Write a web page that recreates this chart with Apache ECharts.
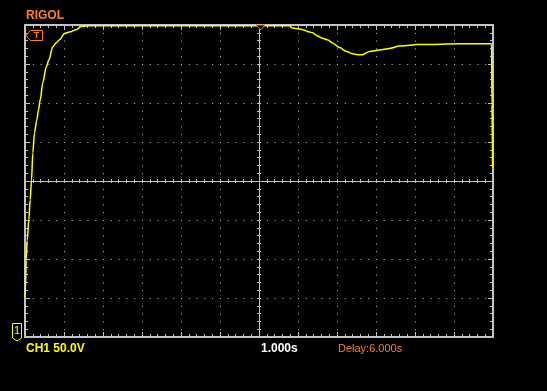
<!DOCTYPE html>
<html>
<head>
<meta charset="utf-8">
<script src="https://cdn.jsdelivr.net/npm/echarts@6/dist/echarts.min.js"></script>
<style>
html,body{margin:0;padding:0;background:#000;}
#chart{width:547px;height:391px;}
</style>
</head>
<body>
<div id="chart"></div>
<script>
// Time relative to screen centre (s), 1.000 s/div, 12 divisions
const timeSec = [
  -6.000, -5.987, -5.970, -5.944, -5.903, -5.867, -5.833, -5.800, -5.756, -5.700,
  -5.654, -5.610, -5.544, -5.456, -5.390, -5.287, -5.205, -5.115, -4.987, -4.859, -4.687,
  -4.559, -4.397, -3.000, -1.000, 0.000, 0.780, 0.859, 1.038, 1.115, 1.295,
  1.372, 1.500, 1.628, 1.756, 1.885, 2.064, 2.244, 2.397, 2.526, 2.654,
  2.833, 3.090, 3.346, 3.603, 3.859, 4.030, 4.450, 5.140, 5.962, 5.975, 5.990
];
// CH1 voltage relative to screen centre (V), 50.0 V/div, 8 divisions
const ch1Volt = [
  -149, -136, -101, -76, -50, -24, 1, 36, 62, 78,
  91, 104, 126, 146, 155, 172, 177, 181, 189, 191, 194,
  198, 199, 199, 199, 199, 199, 196, 195, 194, 191,
  190, 186, 183, 181, 177, 171, 166, 163, 162, 162,
  166, 168, 170, 173, 174, 175, 175, 176, 176, 97, 18
];
const xRange = [-6, 6];
const yRange = [-200, 200];

const grey = '#c4c4c4';
const orange = '#ff8020';
const yellow = '#ffff00';

function borderAxis(pos, min, max, interval) {
  return {
    type: 'value', min: min, max: max, interval: interval, position: pos,
    axisLine: { show: true, onZero: false, lineStyle: { color: grey, width: 2 } },
    axisTick: { show: true, inside: true, length: 5, lineStyle: { color: grey, width: 1 } },
    minorTick: { show: true, splitNumber: 5, length: 3, lineStyle: { color: grey, width: 1 } },
    axisLabel: { show: false },
    splitLine: { show: false }
  };
}
function centreAxis(pos, min, max, interval, inside) {
  return {
    type: 'value', min: min, max: max, interval: interval, position: pos,
    axisLine: { show: true, onZero: true, onZeroAxisIndex: 0, lineStyle: { color: grey, width: 1 } },
    axisTick: { show: true, inside: inside, length: 2, lineStyle: { color: grey, width: 1 } },
    minorTick: { show: true, splitNumber: 5, length: 2, lineStyle: { color: grey, width: 1 } },
    axisLabel: { show: false },
    splitLine: { show: false }
  };
}

const xMain = borderAxis('bottom', xRange[0], xRange[1], 1);
xMain.splitLine = { show: true, lineStyle: { color: grey, width: 1, type: [1, 6.8] } };
const yMain = borderAxis('left', yRange[0], yRange[1], 50);
yMain.splitLine = { show: true, lineStyle: { color: grey, width: 1, type: [1, 6.8] } };

const chart = echarts.init(document.getElementById('chart'), null, { renderer: 'canvas' });
chart.setOption({
  backgroundColor: '#000',
  animation: false,
  grid: { left: 25, top: 25, width: 468, height: 312, containLabel: false },
  xAxis: [
    xMain,
    borderAxis('top', xRange[0], xRange[1], 1),
    centreAxis('bottom', xRange[0], xRange[1], 1, true),
    centreAxis('bottom', xRange[0], xRange[1], 1, false)
  ],
  yAxis: [
    yMain,
    borderAxis('right', yRange[0], yRange[1], 50),
    centreAxis('left', yRange[0], yRange[1], 50, true),
    centreAxis('left', yRange[0], yRange[1], 50, false)
  ],
  series: [{
    type: 'line',
    xAxisIndex: 0, yAxisIndex: 0,
    data: timeSec.map((t, i) => [t, ch1Volt[i]]),
    showSymbol: false,
    clip: false,
    smooth: 0.3,
    smoothMonotone: 'x',
    z: 10,
    lineStyle: { color: yellow, width: 1.5 }
  }],
  graphic: [
    { type: 'text', left: 26, top: 10, z: 20,
      style: { text: 'RIGOL', fill: orange, font: 'bold 12px "Liberation Sans", Arial, sans-serif' } },
    { type: 'polygon', z: 20,
      shape: { points: [[26, 35.5], [30.5, 30.5], [42.5, 30.5], [42.5, 40.5], [30.5, 40.5]] },
      style: { fill: '#000', stroke: orange, lineWidth: 1 } },
    { type: 'text', x: 36.5, y: 35.5, z: 21,
      style: { text: 'T', fill: orange, font: 'bold 9px "Liberation Sans", Arial, sans-serif', align: 'center', verticalAlign: 'middle' } },
    { type: 'polygon', z: 20,
      shape: { points: [[256, 25], [265, 25], [260.5, 30]] },
      style: { fill: '#000', stroke: orange, lineWidth: 1 } },
    { type: 'polygon', z: 20,
      shape: { points: [[12.5, 323.5], [21.5, 323.5], [21.5, 338], [17, 341], [12.5, 338]] },
      style: { fill: '#000', stroke: yellow, lineWidth: 1 } },
    { type: 'text', x: 17, y: 331, z: 21,
      style: { text: '1', fill: yellow, font: '11px "Liberation Sans", Arial, sans-serif', align: 'center', verticalAlign: 'middle' } },
    { type: 'text', x: 26, y: 349, z: 20,
      style: { text: 'CH1 50.0V', fill: yellow, font: 'bold 12px "Liberation Sans", Arial, sans-serif', verticalAlign: 'middle' } },
    { type: 'text', x: 261, y: 349, z: 20,
      style: { text: '1.000s', fill: '#ffffff', font: 'bold 12px "Liberation Sans", Arial, sans-serif', verticalAlign: 'middle' } },
    { type: 'text', x: 338, y: 349, z: 20,
      style: { text: 'Delay:6.000s', fill: orange, font: '11px "Liberation Sans", Arial, sans-serif', verticalAlign: 'middle' } }
  ]
});
</script>
</body>
</html>
